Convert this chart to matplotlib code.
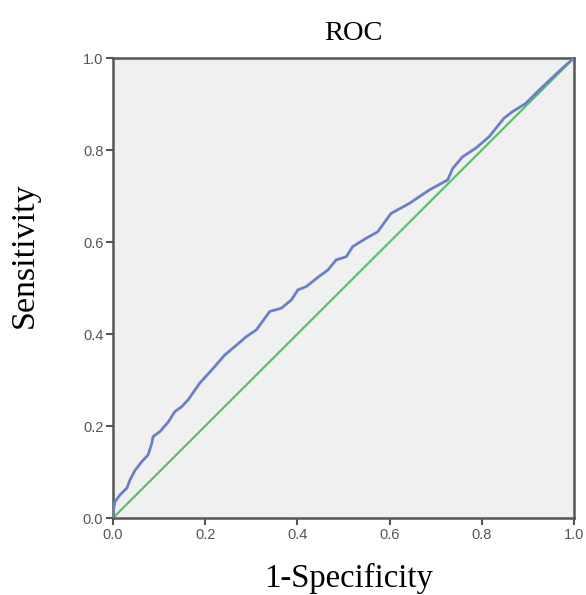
import matplotlib
matplotlib.use("Agg")
import matplotlib.pyplot as plt

fpr = [0.0, 0.002, 0.004, 0.015, 0.03, 0.037, 0.048, 0.062, 0.076, 0.084, 0.087,
       0.102, 0.120, 0.134, 0.149, 0.163, 0.188, 0.217, 0.242, 0.268, 0.289,
       0.311, 0.340, 0.365, 0.387, 0.401, 0.419, 0.448, 0.466, 0.484, 0.506,
       0.520, 0.549, 0.574, 0.603, 0.643, 0.686, 0.726, 0.737, 0.758, 0.787,
       0.816, 0.848, 0.866, 0.895, 0.924, 0.975, 1.0]
tpr = [0.0, 0.024, 0.035, 0.050, 0.065, 0.083, 0.104, 0.122, 0.137, 0.162, 0.177,
       0.188, 0.209, 0.231, 0.242, 0.257, 0.293, 0.325, 0.354, 0.376, 0.394,
       0.409, 0.449, 0.456, 0.474, 0.496, 0.503, 0.526, 0.539, 0.561, 0.568,
       0.590, 0.608, 0.622, 0.662, 0.684, 0.713, 0.735, 0.760, 0.785, 0.804,
       0.829, 0.869, 0.883, 0.901, 0.930, 0.978, 1.0]
ref_x = [0.0, 1.0]
ref_y = [0.0, 1.0]
ticks = [0.0, 0.2, 0.4, 0.6, 0.8, 1.0]
tick_labels = ["0.0", "0.2", "0.4", "0.6", "0.8", "1.0"]

fig = plt.figure(figsize=(5.86, 5.95), dpi=100)
ax = fig.add_axes([113/586, 1-518/595, 461/586, 460/595])
ax.set_facecolor("#f0f0f0")
ax.plot(ref_x, ref_y, color="#5cc06c", lw=1.6, zorder=2)
ax.plot(fpr, tpr, color="#6b7fc6", lw=2.0, zorder=3)
ax.set_xlim(0, 1)
ax.set_ylim(0, 1)
ax.set_xticks(ticks)
ax.set_yticks(ticks)
ax.set_xticklabels(tick_labels)
ax.set_yticklabels(tick_labels)
for s in ax.spines.values():
    s.set_color("#555555")
    s.set_linewidth(1.8)
ax.tick_params(direction="out", length=5, width=1.5, color="#555555",
               labelsize=10.5, labelcolor="#555555", pad=2)
for lab in ax.get_xticklabels() + ax.get_yticklabels():
    lab.set_fontfamily("Liberation Sans")
ax.set_title("ROC", fontfamily="Liberation Serif", fontsize=20.5, pad=13, x=0.521)
ax.set_xlabel("1-Specificity", fontfamily="Liberation Serif", fontsize=23.5)
ax.xaxis.set_label_coords(0.512, -0.098)
ax.set_ylabel("Sensitivity", fontfamily="Liberation Serif", fontsize=24.5)
ax.yaxis.set_label_coords(-0.158, 0.572)
fig.savefig("out.png", dpi=100)
